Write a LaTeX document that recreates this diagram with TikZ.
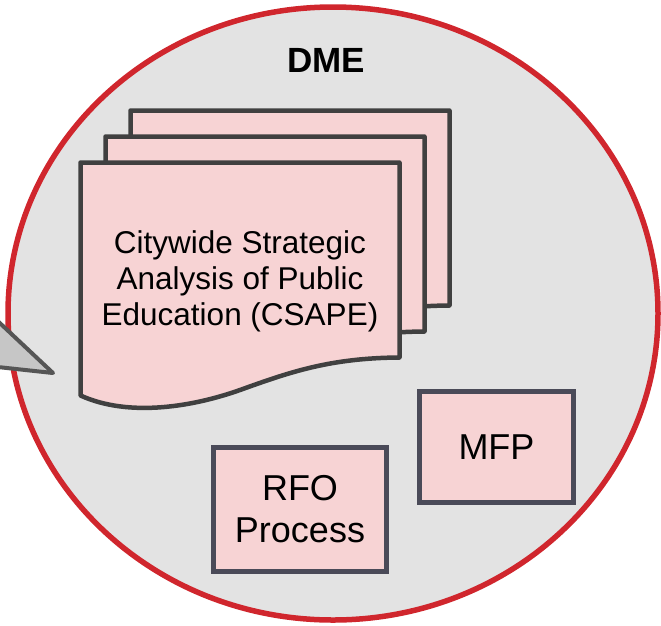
\documentclass[tikz,border=0pt]{standalone}
\usepackage{fontspec}
\setmainfont{Liberation Sans}
\definecolor{dmered}{HTML}{D0262D}
\definecolor{dmegray}{HTML}{E3E3E3}
\definecolor{pagepink}{HTML}{F7D3D4}
\definecolor{pagegray}{HTML}{404040}
\definecolor{boxgray}{HTML}{4A4A58}
\definecolor{tailfill}{HTML}{C6C6C6}
\definecolor{tailgray}{HTML}{555555}

\begin{document}
\begin{tikzpicture}[x=1pt,y=-1pt,
  page/.style={draw=pagegray, line width=4.5pt, fill=pagepink, line join=round},
  procbox/.style={draw=boxgray, line width=4.5pt, fill=pagepink, align=center,
    font=\fontsize{36}{42}\selectfont}]
% Canvas, same size as the slide crop
\useasboundingbox (0,0) rectangle (661,625);
\clip (0,0) rectangle (661,625);
% Circle centre and radii
\coordinate (C) at (333,313.5);
\def\rX{325}
\def\rY{306.5}
% Draw the DME circle
\draw[draw=dmered, line width=5.5pt, fill=dmegray] (C) ellipse [x radius=\rX, y radius=\rY];
% Speech bubble tail coming in from the left
\coordinate (tip) at (53,373);
\draw[draw=tailgray, line width=4pt, fill=tailfill, line join=round]
  (-30,295) -- (tip) -- (-30,364) -- cycle;
% Stacked pages, back to front
\foreach \dx/\dy in {50/-52, 25/-26, 0/0}
  \draw[page, shift={(\dx,\dy)}] (80.5,162.5) -- (399.5,162.5) -- (399.5,357.5)
    .. controls (330,358) and (290,372) .. (240,390)
    .. controls (195,406) and (130,418) .. (80.5,395.5) -- cycle;
% Document label
\node[font=\fontsize{31.5}{36}\selectfont, align=center] (csape) at (240,281)
  {Citywide Strategic\\Analysis of Public\\Education (CSAPE)};
% Title
\node[font=\bfseries\fontsize{35}{40}\selectfont] (dme) at (326,60) {DME};
% Process boxes
\node[procbox, minimum width=154pt, minimum height=111pt] (mfp) at (496.5,447) {MFP};
\node[procbox, minimum width=173pt, minimum height=124pt] (rfo) at (300,509.5) {RFO\\Process};
\end{tikzpicture}
\end{document}
